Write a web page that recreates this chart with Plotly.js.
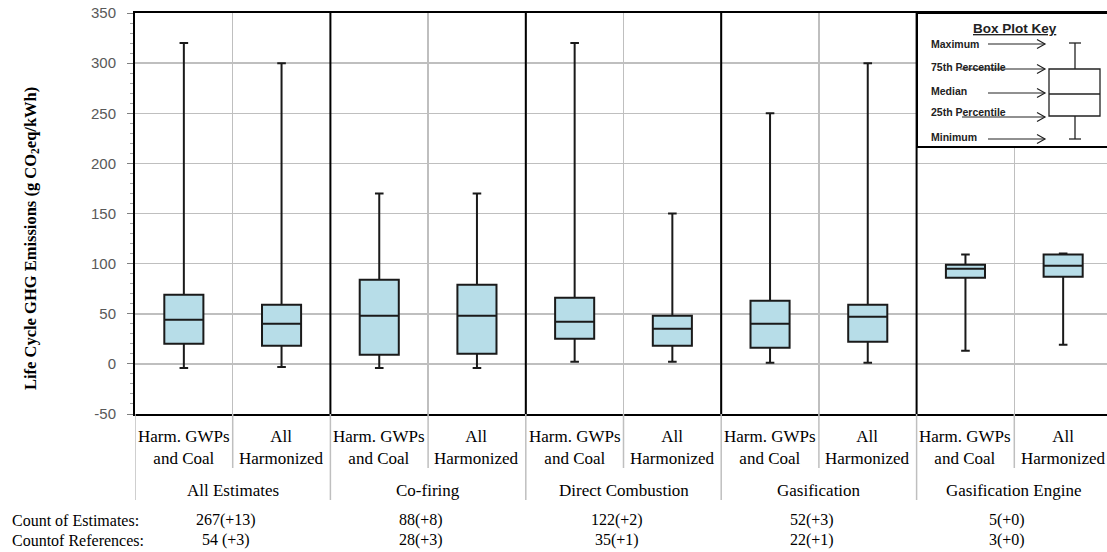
<!DOCTYPE html>
<html>
<head>
<meta charset="utf-8">
<script src="https://cdn.plot.ly/plotly-3.0.1.min.js"></script>
<style>
  html, body { margin: 0; padding: 0; overflow: hidden; background: #fff; }
  #chart { width: 1113px; height: 552px; }
</style>
</head>
<body>
<div id="chart"></div>
<script>
// ---- data ----
const groups = ['All Estimates', 'Co-firing', 'Direct Combustion', 'Gasification', 'Gasification Engine'];
const subLabels = ['Harm. GWPs<br>and Coal', 'All<br>Harmonized'];
const maxVals = [320, 300, 170, 170, 320, 150, 250, 300, 109, 110];
const q3Vals  = [69, 59, 84, 79, 66, 48, 63, 59, 99, 109];
const medVals = [44, 40, 48, 48, 42, 35, 40, 47, 95, 98];
const q1Vals  = [20, 18, 9, 10, 25, 18, 16, 22, 86, 87];
const minVals = [-4, -3, -4, -4, 2, 2, 1, 1, 13, 19];
const countEstimates = ['267(+13)', '88(+8)', '122(+2)', '52(+3)', '5(+0)'];
const countRefs = ['54 (+3)', '28(+3)', '35(+1)', '22(+1)', '3(+0)'];
const yTickVals = [-50, 0, 50, 100, 150, 200, 250, 300, 350];
const yTickText = ['-50', '0', '50', '100', '150', '200', '250', '300', '350'];
const keyLabels = ['Maximum', '75th Percentile', 'Median', '25th Percentile', 'Minimum'];
const yTitle = 'Life Cycle GHG Emissions (g CO<sub>2</sub>eq/kWh)';

// ---- layout geometry ----
const W = 1113, H = 552, ML = 135, MR = 1, MT = 13, MB = 138;
const PW = W - ML - MR, PH = H - MT - MB;
const px = v => (v - ML) / PW;            // pixel x -> paper
const py = v => (H - MB - v) / PH;        // pixel y -> paper

const nCat = groups.length * subLabels.length;
const xIdx = maxVals.map((_, i) => i);

const serif = 'Liberation Serif, Times New Roman, serif';
const sans = 'Liberation Sans, Arial, sans-serif';

const trace = {
  type: 'box',
  x: xIdx,
  q1: q1Vals,
  median: medVals,
  q3: q3Vals,
  lowerfence: minVals,
  upperfence: maxVals,
  boxpoints: false,
  fillcolor: '#b7dde8',
  line: { color: '#1a1a1a', width: 2 },
  width: 0.4,
  whiskerwidth: 0.22,
  hoverinfo: 'skip',
  showlegend: false
};

const shapes = [];
const annotations = [];

// group separators inside plot (black) and lines below axis (gray)
for (let k = 0; k <= nCat; k++) {
  const xb = k - 0.5;
  const isGroup = k % subLabels.length === 0;
  if (isGroup && k > 0 && k < nCat) {
    shapes.push({ type: 'line', xref: 'x', yref: 'paper', x0: xb, x1: xb, y0: 0, y1: 1,
      line: { color: '#000', width: 2 }, layer: 'above' });
  }
  shapes.push({ type: 'line', xref: 'x', yref: 'paper', x0: xb, x1: xb, y0: 0,
    y1: isGroup ? py(500) : py(468), line: { color: '#bfbfbf', width: 1.5 } });
}

// category labels
xIdx.forEach(i => {
  annotations.push({ xref: 'x', yref: 'paper', x: i, y: py(425), yanchor: 'top', xanchor: 'center',
    text: subLabels[i % subLabels.length], showarrow: false,
    font: { family: serif, size: 17, color: '#000' }, align: 'center' });
});
groups.forEach((g, gi) => {
  const xc = gi * subLabels.length + (subLabels.length - 1) / 2;
  annotations.push({ xref: 'x', yref: 'paper', x: xc, y: py(490), yanchor: 'middle', xanchor: 'center',
    text: g, showarrow: false, font: { family: serif, size: 17, color: '#000' } });
  annotations.push({ xref: 'x', yref: 'paper', x: xc, xshift: -7, y: py(520), yanchor: 'middle', xanchor: 'center',
    text: countEstimates[gi], showarrow: false, font: { family: serif, size: 16, color: '#000' } });
  annotations.push({ xref: 'x', yref: 'paper', x: xc, xshift: -7, y: py(540), yanchor: 'middle', xanchor: 'center',
    text: countRefs[gi], showarrow: false, font: { family: serif, size: 16, color: '#000' } });
});
annotations.push({ xref: 'paper', yref: 'paper', x: px(10), y: py(520), xanchor: 'left', yanchor: 'middle',
  text: 'Count of Estimates:', showarrow: false, font: { family: serif, size: 16, color: '#000' } });
annotations.push({ xref: 'paper', yref: 'paper', x: px(10), y: py(540), xanchor: 'left', yanchor: 'middle',
  text: 'Countof References:', showarrow: false, font: { family: serif, size: 16, color: '#000' } });

// y axis title (rotated)
annotations.push({ xref: 'paper', yref: 'paper', x: px(31), y: py(239), xanchor: 'center', yanchor: 'middle',
  textangle: -90, text: '<b>' + yTitle + '</b>', showarrow: false,
  font: { family: serif, size: 16.5, color: '#000' } });

// ---- Box plot key ----
shapes.push({ type: 'rect', xref: 'paper', yref: 'paper', x0: px(917), x1: 1.01, y0: py(147), y1: 1,
  fillcolor: '#fff', line: { color: '#000', width: 2 }, layer: 'above' });
const kb = { l: 1049, r: 1100, top: 69, bot: 116, med: 94, cx: 1075, wt: 43, wb: 139, cap: 6 };
const kline = (x0, y0, x1, y1, w) => shapes.push({ type: 'line', xref: 'paper', yref: 'paper',
  x0: px(x0), x1: px(x1), y0: py(y0), y1: py(y1), line: { color: '#222', width: w || 1.3 }, layer: 'above' });
shapes.push({ type: 'rect', xref: 'paper', yref: 'paper', x0: px(kb.l), x1: px(kb.r), y0: py(kb.bot), y1: py(kb.top),
  fillcolor: 'rgba(0,0,0,0)', line: { color: '#222', width: 1.3 }, layer: 'above' });
kline(kb.l, kb.med, kb.r, kb.med);
kline(kb.cx, kb.wt, kb.cx, kb.top);
kline(kb.cx, kb.bot, kb.cx, kb.wb);
kline(kb.cx - kb.cap, kb.wt, kb.cx + kb.cap, kb.wt);
kline(kb.cx - kb.cap, kb.wb, kb.cx + kb.cap, kb.wb);

annotations.push({ xref: 'paper', yref: 'paper', x: px(1015), y: py(28), xanchor: 'center', yanchor: 'middle',
  text: '<b><u>Box Plot Key</u></b>', showarrow: false, font: { family: sans, size: 13.5, color: '#222' } });
const keyY = [44, 67, 91, 112, 137];
const arrowY = [44, 69, 93, 117, 139];
const arrowStart = [988, 960, 988, 962, 988];
const tipX = 1045;
keyLabels.forEach((t, i) => {
  annotations.push({ xref: 'paper', yref: 'paper', x: px(929), y: py(keyY[i]), xanchor: 'left', yanchor: 'middle',
    text: '<b>' + t + '</b>', showarrow: false, font: { family: sans, size: 10.5, color: '#222' } });
  const ay = arrowY[i];
  kline(arrowStart[i], ay, tipX, ay, 1.1);
  shapes.push({ type: 'path', xref: 'paper', yref: 'paper', layer: 'above',
    path: 'M' + px(tipX - 8) + ',' + py(ay - 4.5) + ' L' + px(tipX) + ',' + py(ay) + ' L' + px(tipX - 8) + ',' + py(ay + 4.5),
    line: { color: '#222', width: 1.2 } });
});

const layout = {
  width: W, height: H,
  margin: { l: ML, r: MR, t: MT, b: MB, pad: 0 },
  paper_bgcolor: '#fff', plot_bgcolor: '#fff',
  showlegend: false,
  xaxis: {
    type: 'linear', range: [-0.5, nCat - 0.5],
    tickvals: xIdx.slice(0, nCat - 1).map(i => i + 0.5),
    showticklabels: false, ticks: '',
    showgrid: true, gridcolor: '#bfbfbf', gridwidth: 1.5,
    zeroline: false, showline: true, linecolor: '#000', linewidth: 2, mirror: true,
    fixedrange: true
  },
  yaxis: {
    range: [-50, 350], tickmode: 'array', tickvals: yTickVals, ticktext: yTickText,
    showgrid: true, gridcolor: '#bfbfbf', gridwidth: 1.5,
    zeroline: false, showline: true, linecolor: '#000', linewidth: 2, mirror: true,
    ticks: 'outside', ticklen: 6, tickcolor: '#808080', tickwidth: 1,
    ticklabelstandoff: 8,
    minor: { dtick: 10, tick0: 0, ticks: 'outside', ticklen: 3, tickcolor: '#a0a0a0', showgrid: false },
    tickfont: { family: sans, size: 15, color: '#595959' },
    fixedrange: true
  },
  shapes: shapes,
  annotations: annotations
};

Plotly.newPlot('chart', [trace], layout, { displayModeBar: false, staticPlot: true });
</script>
</body>
</html>
